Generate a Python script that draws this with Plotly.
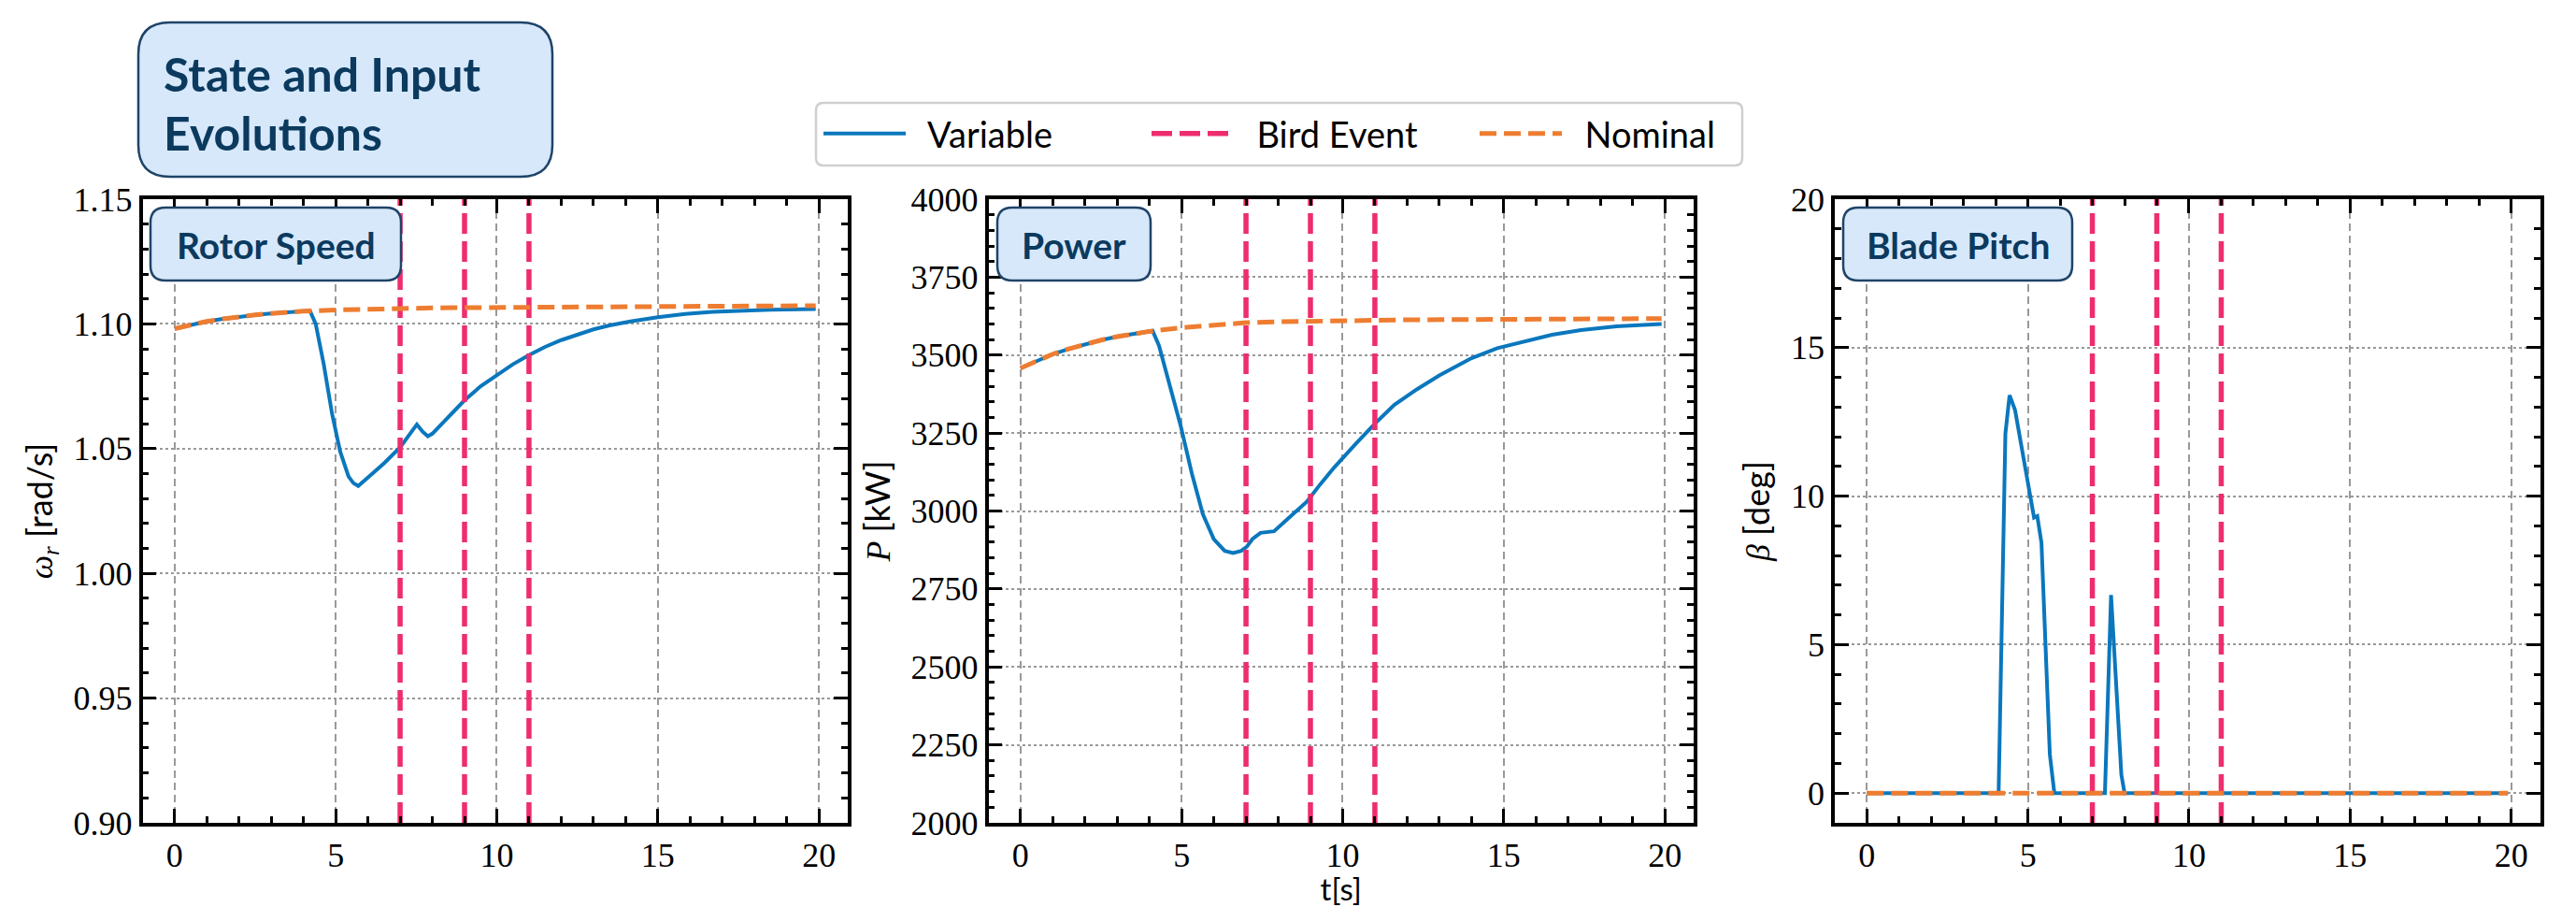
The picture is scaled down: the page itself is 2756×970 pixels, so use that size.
import plotly.graph_objects as go

W, H = 2756, 970

# ---------------- data ----------------
bird_events = [7, 9, 11]

t_rot_var = [0, 0.5, 1.0, 1.5, 2.0, 2.5, 3.0, 3.5, 4.0, 4.2, 4.38, 4.63, 4.89, 5.14, 5.4, 5.55, 5.7,
             5.9, 6.2, 6.5, 7.0, 7.3, 7.52, 7.7, 7.86, 8.0, 8.5, 9.0, 9.5, 10.0, 10.5, 11.0, 11.5,
             12.0, 12.45, 13.0, 13.5, 14.15, 15.0, 15.85, 16.7, 17.55, 18.5, 19.9]
w_rot_var = [1.0981, 1.0997, 1.1010, 1.1020, 1.1029, 1.1036, 1.1042, 1.1047, 1.1051, 1.1053, 1.1000,
             1.0838, 1.0638, 1.0488, 1.0388, 1.0362, 1.0350, 1.0372, 1.0405, 1.0441, 1.0505, 1.0555,
             1.0597, 1.0568, 1.0550, 1.0560, 1.0625, 1.0694, 1.0750, 1.0794, 1.0838, 1.0875, 1.0908,
             1.0935, 1.0956, 1.0978, 1.0994, 1.1010, 1.1027, 1.1040, 1.1048, 1.1053, 1.1057, 1.1060]

t_rot_nom = [0, 0.5, 1, 1.5, 2, 2.5, 3, 3.5, 4, 5, 6, 7, 8, 9, 10, 12, 14, 16, 18, 19.9]
w_rot_nom = [1.0981, 1.0997, 1.1010, 1.1020, 1.1029, 1.1036, 1.1042, 1.1047, 1.1051, 1.1056, 1.1060,
             1.1062, 1.1064, 1.1065, 1.1066, 1.1068, 1.1070, 1.1071, 1.1072, 1.1073]

t_pow_var = [0, 0.5, 1.0, 1.5, 2.0, 2.5, 3.0, 3.5, 4.0, 4.1, 4.3, 4.64, 4.98, 5.32, 5.66, 6.0, 6.34,
             6.6, 6.85, 7.02, 7.2, 7.45, 7.87, 8.3, 8.89, 9.3, 9.74, 10.4, 11.0, 11.6, 12.3, 13.0,
             14.0, 14.8, 15.7, 16.5, 17.4, 18.5, 19.9]
p_pow_var = [3458, 3482, 3503, 3520, 3535, 3548, 3559, 3568, 3576, 3578, 3530, 3405, 3270, 3120, 2990,
             2910, 2872, 2865, 2872, 2885, 2910, 2930, 2935, 2975, 3030, 3085, 3140, 3215, 3280, 3340,
             3390, 3435, 3490, 3522, 3545, 3565, 3580, 3592, 3600]

t_pow_nom = [0, 0.5, 1, 1.5, 2, 2.5, 3, 3.5, 4, 5, 6, 7, 8, 9, 10, 11, 12, 14, 16, 18, 19.9]
p_pow_nom = [3458, 3482, 3503, 3520, 3535, 3548, 3559, 3568, 3576, 3588, 3597, 3604, 3607, 3609, 3611,
             3612, 3613, 3614, 3615, 3616, 3617]

t_pit_var = [0, 4.09, 4.3, 4.43, 4.6, 5.07, 5.19, 5.29, 5.42, 5.68, 5.82, 7.39, 7.58, 7.9, 8.0, 19.9]
b_pit_var = [0, 0, 12.1, 13.4, 12.9, 10.0, 9.28, 9.33, 8.43, 1.3, 0, 0, 6.67, 0.62, 0, 0]

t_pit_nom = [0, 19.9]
b_pit_nom = [0, 0]

legend_names = ["Variable", "Bird Event", "Nominal"]
panel_titles = ["Rotor Speed", "Power", "Blade Pitch"]
y_ranges = [[0.90, 1.15], [2000, 4000], [-1, 20]]
y_ticks = [[0.90, 0.95, 1.00, 1.05, 1.10, 1.15],
           [2000, 2250, 2500, 2750, 3000, 3250, 3500, 3750, 4000],
           [0, 5, 10, 15, 20]]
y_ticktext = [["0.90", "0.95", "1.00", "1.05", "1.10", "1.15"],
              ["2000", "2250", "2500", "2750", "3000", "3250", "3500", "3750", "4000"],
              ["0", "5", "10", "15", "20"]]
y_minor = [0.01, 50, 1]
x_ticks = [0, 5, 10, 15, 20]
x_range = [-0.995, 20.895]

# ---------------- style ----------------
BLUE = "#0A77BD"
PINK = "#EE2D6E"
ORANGE = "#EE7D31"
BOX_FILL = "#D7E8FB"
BOX_LINE = "#1F4468"
BOX_TEXT = "#0B3A5E"
SERIF = "Liberation Serif"
SANS = "Lato"

# plot-area pixel geometry
panels_px = [(152.5, 907), (1057.5, 1812), (1963, 2717.5)]
top_px, bot_px = 213, 880

def px(x):
    return x / W

def py(y):
    return 1 - y / H

fig = go.Figure()

series = [(t_rot_var, w_rot_var, t_rot_nom, w_rot_nom),
          (t_pow_var, p_pow_var, t_pow_nom, p_pow_nom),
          (t_pit_var, b_pit_var, t_pit_nom, b_pit_nom)]

NB = "\u00a0\u00a0"
for i, (tv, yv, tn, yn) in enumerate(series):
    xa = "x" if i == 0 else f"x{i+1}"
    ya = "y" if i == 0 else f"y{i+1}"
    lo, hi = y_ranges[i]
    fig.add_trace(go.Scatter(x=tv, y=yv, mode="lines", name=NB + legend_names[0], legendgroup="var",
                             showlegend=(i == 0), line=dict(color=BLUE, width=4),
                             xaxis=xa, yaxis=ya))
    bx, by = [], []
    for e in bird_events:
        bx += [e, e, None]
        by += [lo, hi, None]
    fig.add_trace(go.Scatter(x=bx, y=by, mode="lines", name=NB + legend_names[1], legendgroup="bird",
                             showlegend=(i == 0), line=dict(color=PINK, width=5.5, dash="22px,8px"),
                             xaxis=xa, yaxis=ya))
    fig.add_trace(go.Scatter(x=tn, y=yn, mode="lines", name=NB + legend_names[2], legendgroup="nom",
                             showlegend=(i == 0), line=dict(color=ORANGE, width=5, dash="18px,8px"),
                             xaxis=xa, yaxis=ya))

def axis_common():
    return dict(showline=True, linewidth=3.5, linecolor="black", mirror="allticks",
                ticks="inside", tickwidth=2.5, tickcolor="black", zeroline=False,
                automargin=False,
                tickfont=dict(family=SERIF, size=36, color="black"), showgrid=True,
                gridcolor="#999999", gridwidth=1.5)

ytitles = ["<i>ω</i><sub><i>r</i></sub> <span style='font-family:Lato'>[rad/s]</span>",
           "<i>P</i> <span style='font-family:Lato'>[kW]</span>",
           "<i>β</i> <span style='font-family:Lato'>[deg]</span>"]

layout = {}
for i in range(3):
    x0, x1 = panels_px[i]
    xk = "xaxis" if i == 0 else f"xaxis{i+1}"
    yk = "yaxis" if i == 0 else f"yaxis{i+1}"
    xa = axis_common()
    xa.update(domain=[px(x0), px(x1)], range=x_range, tickvals=x_ticks,
              ticktext=[str(v) for v in x_ticks], ticklen=15, griddash="8px,5px",
              anchor="y" if i == 0 else f"y{i+1}",
              minor=dict(dtick=1, tick0=0, ticklen=7, tickwidth=2.5, tickcolor="black",
                         ticks="inside", showgrid=False))
    if i == 1:
        xa["title"] = dict(text="t[s]", font=dict(family=SANS, size=33, color="black"), standoff=14)
    ya = axis_common()
    ya.update(domain=[py(bot_px), py(top_px)], range=y_ranges[i], tickvals=y_ticks[i],
              ticktext=y_ticktext[i], ticklen=15, griddash="3px,3px",
              anchor="x" if i == 0 else f"x{i+1}",
              title=dict(text=ytitles[i], font=dict(family=SERIF, size=36, color="black"), standoff=12),
              minor=dict(dtick=y_minor[i], tick0=y_ranges[i][0], ticklen=7, tickwidth=2.5,
                         tickcolor="black", ticks="inside", showgrid=False))
    layout[xk] = xa
    layout[yk] = ya

def rrect(x0, y0, x1, y1, r):
    def P(x, y):
        return f"{px(x):.6f},{py(y):.6f}"
    return (f"M {P(x0 + r, y0)} L {P(x1 - r, y0)} Q {P(x1, y0)} {P(x1, y0 + r)} "
            f"L {P(x1, y1 - r)} Q {P(x1, y1)} {P(x1 - r, y1)} L {P(x0 + r, y1)} "
            f"Q {P(x0, y1)} {P(x0, y1 - r)} L {P(x0, y0 + r)} Q {P(x0, y0)} {P(x0 + r, y0)} Z")

shapes = []
annotations = []

# main title box
shapes.append(dict(type="path", xref="paper", yref="paper", path=rrect(148, 24, 591, 189, 34),
                   fillcolor=BOX_FILL, line=dict(color=BOX_LINE, width=2.5), layer="above"))
annotations.append(dict(xref="paper", yref="paper", x=px(173), y=py(79), xanchor="left",
                        yanchor="middle", showarrow=False, text="<b>State and Input</b>",
                        font=dict(family=SANS, size=50, color=BOX_TEXT)))
annotations.append(dict(xref="paper", yref="paper", x=px(173), y=py(142), xanchor="left",
                        yanchor="middle", showarrow=False, text="<b>Evolutions</b>",
                        font=dict(family=SANS, size=50, color=BOX_TEXT)))

# legend frame
shapes.append(dict(type="path", xref="paper", yref="paper", path=rrect(873, 110, 1864, 177, 8),
                   fillcolor="white", line=dict(color="#CFCFCF", width=2.5), layer="above"))

# panel label boxes
box_px = [(161, 429), (1067, 1231), (1972, 2217)]
for i, (b0, b1) in enumerate(box_px):
    shapes.append(dict(type="path", xref="paper", yref="paper", path=rrect(b0, 222, b1, 300, 16),
                       fillcolor=BOX_FILL, line=dict(color=BOX_LINE, width=2.5), layer="above"))
    annotations.append(dict(xref="paper", yref="paper", x=px((b0 + b1) / 2), y=py(262),
                            xanchor="center", yanchor="middle", showarrow=False,
                            text=f"<b>{panel_titles[i]}</b>",
                            font=dict(family=SANS, size=39, color=BOX_TEXT)))

fig.update_layout(
    template="none",
    width=W, height=H,
    margin=dict(l=0, r=0, t=0, b=0, autoexpand=False),
    paper_bgcolor="white", plot_bgcolor="white",
    shapes=shapes, annotations=annotations,
    showlegend=True,
    legend=dict(orientation="h", x=px(876), y=py(143), xanchor="left", yanchor="middle",
                bgcolor="rgba(0,0,0,0)", borderwidth=0, entrywidth=248, itemwidth=88,
                font=dict(family=SANS, size=38, color="black")),
    **layout,
)

fig.write_html("out.html", config={"displayModeBar": False},
               post_script="document.body.style.margin='0px';")
